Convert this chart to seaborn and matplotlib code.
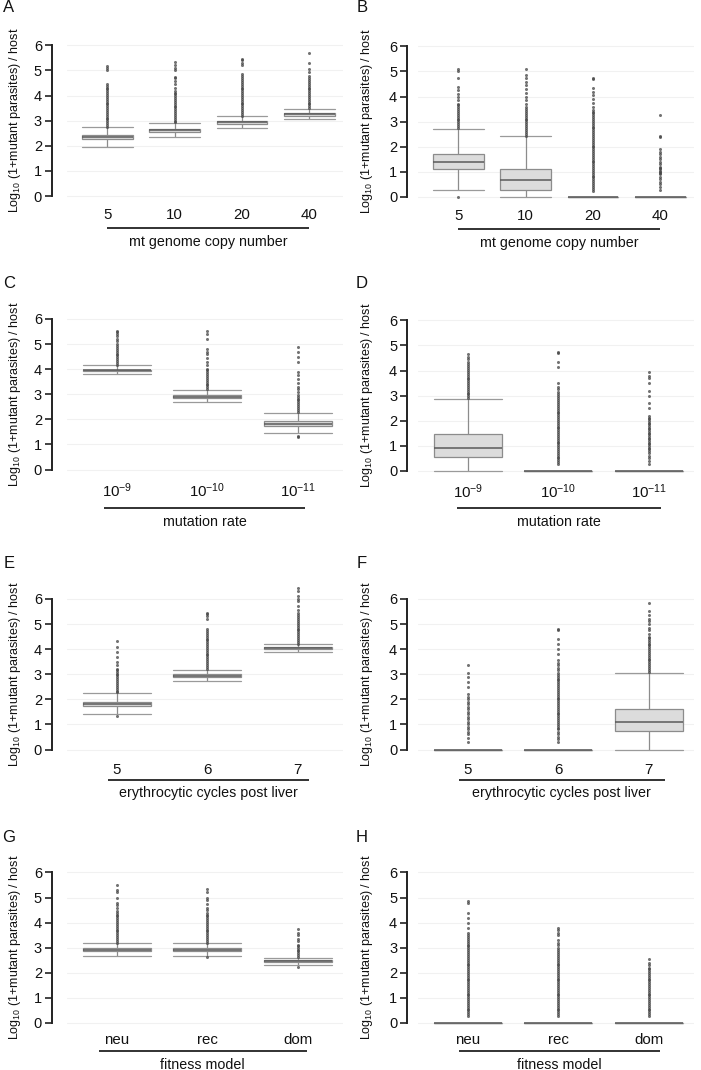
import numpy as np
import pandas as pd
import matplotlib
matplotlib.use("Agg")
import matplotlib.pyplot as plt
from matplotlib.transforms import offset_copy
import seaborn as sns

sns.set_theme(style="white")
plt.rcParams['font.family'] = ['Liberation Sans', 'DejaVu Sans']
plt.rcParams['mathtext.fontset'] = 'custom'
plt.rcParams['mathtext.rm'] = 'Liberation Sans'
plt.rcParams['mathtext.it'] = 'Liberation Sans:italic'
plt.rcParams['mathtext.bf'] = 'Liberation Sans:bold'

# ---------------- categories / tick labels ----------------
cats_copy = ["5", "10", "20", "40"]
ticks_copy = ["5", "10", "20", "40"]
cats_mut = ["1e-9", "1e-10", "1e-11"]
ticks_mut = ["10$^{-9}$", "10$^{-10}$", "10$^{-11}$"]
cats_cyc = ["5", "6", "7"]
ticks_cyc = ["5", "6", "7"]
cats_fit = ["neu", "rec", "dom"]
ticks_fit = ["neu", "rec", "dom"]

ylabel_txt = "Log$_{10}$ (1+mutant parasites) / host"

# ---------------- Panel A ----------------
A_lo = [1.96, 2.36, 2.71, 3.05]
A_q1 = [2.27, 2.55, 2.88, 3.20]
A_med = [2.35, 2.62, 2.93, 3.25]
A_q3 = [2.43, 2.68, 3.00, 3.30]
A_hi = [2.73, 2.91, 3.18, 3.48]
A_out = [
    [2.75, 2.82, 2.9, 2.97, 3.05, 3.12, 3.2, 3.27, 3.35, 3.42, 3.5, 3.57, 3.65, 3.72, 3.8, 3.87,
     3.95, 4.02, 4.1, 4.17, 4.25, 4.3, 4.38, 4.45, 5.0, 5.08, 5.17],
    [2.93, 3.0, 3.08, 3.15, 3.23, 3.3, 3.38, 3.45, 3.53, 3.6, 3.68, 3.75, 3.83, 3.9, 3.98, 4.05,
     4.12, 4.2, 4.3, 4.45, 4.6, 4.7, 4.75, 5.0, 5.1, 5.2, 5.34],
    [3.2, 3.27, 3.35, 3.42, 3.5, 3.57, 3.65, 3.72, 3.8, 3.87, 3.95, 4.02, 4.1, 4.17, 4.25, 4.32,
     4.4, 4.47, 4.55, 4.62, 4.7, 4.8, 4.88, 5.2, 5.3, 5.4, 5.47],
    [3.5, 3.57, 3.65, 3.72, 3.8, 3.87, 3.95, 4.02, 4.1, 4.17, 4.25, 4.32, 4.4, 4.47, 4.55, 4.62,
     4.7, 4.8, 4.95, 5.07, 5.3, 5.7],
]

# ---------------- Panel B ----------------
B_lo = [0.27, 0.0, 0.0, 0.0]
B_q1 = [1.13, 0.27, 0.0, 0.0]
B_med = [1.39, 0.66, 0.0, 0.0]
B_q3 = [1.72, 1.13, 0.0, 0.0]
B_hi = [2.72, 2.42, 0.0, 0.0]
B_out = [
    [0.0, 2.75, 2.82, 2.9, 2.97, 3.05, 3.12, 3.2, 3.27, 3.35, 3.42, 3.5, 3.57, 3.65, 3.72, 3.85,
     4.0, 4.1, 4.25, 4.4, 4.75, 5.0, 5.1],
    [2.45, 2.52, 2.6, 2.67, 2.75, 2.82, 2.9, 2.97, 3.05, 3.12, 3.2, 3.27, 3.35, 3.42, 3.5, 3.57,
     3.7, 3.85, 4.0, 4.15, 4.3, 4.45, 4.6, 4.75, 4.87, 5.1],
    [0.25, 0.33, 0.4, 0.48, 0.55, 0.63, 0.7, 0.78, 0.85, 0.93, 1.0, 1.08, 1.15, 1.23, 1.3, 1.38,
     1.45, 1.53, 1.6, 1.68, 1.75, 1.83, 1.9, 1.98, 2.05, 2.13, 2.2, 2.28, 2.35, 2.43, 2.5, 2.58,
     2.65, 2.73, 2.8, 2.88, 2.95, 3.03, 3.1, 3.18, 3.25, 3.33, 3.4, 3.48, 3.6, 3.75, 3.9, 4.05,
     4.2, 4.35, 4.7, 4.75],
    [0.27, 0.4, 0.5, 0.6, 0.7, 0.8, 0.9, 0.95, 1.0, 1.05, 1.1, 1.15, 1.2, 1.3, 1.4, 1.5, 1.6,
     1.7, 1.8, 1.9, 2.4, 2.45, 3.25],
]

# ---------------- Panel C ----------------
C_lo = [3.81, 2.67, 1.44]
C_q1 = [3.92, 2.83, 1.72]
C_med = [3.95, 2.90, 1.80]
C_q3 = [3.98, 2.97, 1.92]
C_hi = [4.15, 3.17, 2.27]
C_out = [
    [4.18, 4.25, 4.32, 4.4, 4.47, 4.55, 4.62, 4.7, 4.77, 4.85, 4.92, 5.0, 5.1, 5.2, 5.3, 5.4,
     5.47, 5.53],
    [3.2, 3.27, 3.35, 3.42, 3.5, 3.57, 3.65, 3.72, 3.8, 3.87, 3.95, 4.02, 4.15, 4.3, 4.45, 4.6,
     4.7, 4.8, 5.2, 5.4, 5.5],
    [1.3, 1.35, 2.3, 2.37, 2.45, 2.52, 2.6, 2.67, 2.75, 2.82, 2.9, 2.97, 3.1, 3.2, 3.3, 3.45,
     3.6, 3.75, 3.9, 4.3, 4.5, 4.7, 4.9],
]

# ---------------- Panel D ----------------
D_lo = [0.0, 0.0, 0.0]
D_q1 = [0.57, 0.0, 0.0]
D_med = [0.93, 0.0, 0.0]
D_q3 = [1.47, 0.0, 0.0]
D_hi = [2.87, 0.0, 0.0]
D_out = [
    [2.9, 2.97, 3.05, 3.12, 3.2, 3.27, 3.35, 3.42, 3.5, 3.57, 3.65, 3.72, 3.8, 3.87, 3.95, 4.02,
     4.1, 4.17, 4.25, 4.35, 4.45, 4.55, 4.65],
    [0.27, 0.35, 0.42, 0.5, 0.57, 0.65, 0.72, 0.8, 0.87, 0.95, 1.02, 1.1, 1.17, 1.25, 1.32, 1.4,
     1.47, 1.55, 1.62, 1.7, 1.77, 1.85, 1.92, 2.0, 2.07, 2.15, 2.22, 2.3, 2.37, 2.45, 2.52, 2.6,
     2.67, 2.75, 2.82, 2.9, 2.97, 3.05, 3.15, 3.25, 3.35, 3.5, 4.15, 4.35, 4.7, 4.75],
    [0.27, 0.4, 0.5, 0.6, 0.7, 0.8, 0.87, 0.93, 1.0, 1.07, 1.13, 1.2, 1.27, 1.33, 1.4, 1.47,
     1.53, 1.6, 1.67, 1.73, 1.8, 1.87, 1.93, 2.0, 2.07, 2.13, 2.2, 2.5, 2.7, 3.0, 3.2, 3.5, 3.7,
     3.8, 3.95],
]

# ---------------- Panel E ----------------
E_lo = [1.43, 2.73, 3.88]
E_q1 = [1.72, 2.88, 4.00]
E_med = [1.80, 2.93, 4.03]
E_q3 = [1.90, 3.00, 4.08]
E_hi = [2.25, 3.18, 4.19]
E_out = [
    [1.32, 2.28, 2.35, 2.42, 2.5, 2.57, 2.65, 2.72, 2.8, 2.87, 2.95, 3.02, 3.1, 3.17, 3.22, 3.35,
     3.5, 3.7, 3.9, 4.1, 4.34],
    [3.22, 3.3, 3.37, 3.45, 3.52, 3.6, 3.67, 3.75, 3.82, 3.9, 3.97, 4.05, 4.12, 4.2, 4.27, 4.35,
     4.42, 4.5, 4.57, 4.65, 4.72, 4.8, 5.2, 5.3, 5.38, 5.45],
    [4.22, 4.3, 4.37, 4.45, 4.52, 4.6, 4.67, 4.75, 4.82, 4.9, 4.97, 5.05, 5.12, 5.2, 5.27, 5.35,
     5.42, 5.55, 5.7, 5.9, 6.0, 6.1, 6.3, 6.45],
]

# ---------------- Panel F ----------------
F_lo = [0.0, 0.0, 0.0]
F_q1 = [0.0, 0.0, 0.73]
F_med = [0.0, 0.0, 1.10]
F_q3 = [0.0, 0.0, 1.63]
F_hi = [0.0, 0.0, 3.05]
F_out = [
    [0.3, 0.45, 0.6, 0.7, 0.8, 0.9, 1.0, 1.1, 1.2, 1.3, 1.4, 1.5, 1.6, 1.7, 1.8, 1.9, 2.0, 2.1,
     2.2, 2.5, 2.7, 2.9, 3.05, 3.35],
    [0.3, 0.4, 0.5, 0.6, 0.7, 0.8, 0.87, 0.95, 1.02, 1.1, 1.17, 1.25, 1.32, 1.4, 1.47, 1.55,
     1.62, 1.7, 1.77, 1.85, 1.92, 2.0, 2.07, 2.15, 2.22, 2.3, 2.37, 2.45, 2.52, 2.6, 2.67, 2.75,
     2.82, 2.9, 2.97, 3.05, 3.15, 3.25, 3.35, 3.45, 3.55, 3.8, 4.0, 4.2, 4.4, 4.75, 4.8],
    [3.1, 3.17, 3.25, 3.32, 3.4, 3.47, 3.55, 3.62, 3.7, 3.77, 3.85, 3.92, 4.0, 4.07, 4.15, 4.22,
     4.3, 4.37, 4.45, 4.5, 4.6, 4.75, 4.85, 5.0, 5.1, 5.2, 5.35, 5.5, 5.85],
]

# ---------------- Panel G ----------------
G_lo = [2.68, 2.68, 2.31]
G_q1 = [2.85, 2.85, 2.43]
G_med = [2.90, 2.90, 2.47]
G_q3 = [2.97, 2.97, 2.50]
G_hi = [3.17, 3.17, 2.60]
G_out = [
    [3.2, 3.27, 3.35, 3.42, 3.5, 3.57, 3.65, 3.72, 3.8, 3.87, 3.95, 4.02, 4.1, 4.17, 4.25, 4.32,
     4.4, 4.47, 4.6, 4.7, 4.8, 5.0, 5.2, 5.3, 5.5],
    [2.63, 3.2, 3.27, 3.35, 3.42, 3.5, 3.57, 3.65, 3.72, 3.8, 3.87, 3.95, 4.02, 4.1, 4.17, 4.25,
     4.32, 4.4, 4.5, 4.6, 4.75, 4.9, 5.0, 5.2, 5.35],
    [2.25, 2.63, 2.7, 2.77, 2.85, 2.92, 3.0, 3.07, 3.12, 3.25, 3.35, 3.5, 3.6, 3.75],
]

# ---------------- Panel H ----------------
H_lo = [0.0, 0.0, 0.0]
H_q1 = [0.0, 0.0, 0.0]
H_med = [0.0, 0.0, 0.0]
H_q3 = [0.0, 0.0, 0.0]
H_hi = [0.0, 0.0, 0.0]
H_out = [
    [0.27, 0.35, 0.42, 0.5, 0.57, 0.65, 0.72, 0.8, 0.87, 0.95, 1.02, 1.1, 1.17, 1.25, 1.32, 1.4,
     1.47, 1.55, 1.62, 1.7, 1.77, 1.85, 1.92, 2.0, 2.07, 2.15, 2.22, 2.3, 2.37, 2.45, 2.52, 2.6,
     2.67, 2.75, 2.82, 2.9, 2.97, 3.05, 3.12, 3.2, 3.27, 3.35, 3.42, 3.5, 3.57, 3.8, 4.0, 4.2,
     4.4, 4.8, 4.85],
    [0.27, 0.35, 0.42, 0.5, 0.57, 0.65, 0.72, 0.8, 0.87, 0.95, 1.02, 1.1, 1.17, 1.25, 1.32, 1.4,
     1.47, 1.55, 1.62, 1.7, 1.77, 1.85, 1.92, 2.0, 2.07, 2.15, 2.22, 2.3, 2.37, 2.45, 2.52, 2.6,
     2.67, 2.75, 2.82, 2.9, 2.97, 3.1, 3.2, 3.3, 3.5, 3.6, 3.7, 3.8],
    [0.27, 0.35, 0.42, 0.5, 0.57, 0.65, 0.72, 0.8, 0.87, 0.95, 1.02, 1.1, 1.17, 1.25, 1.32, 1.4,
     1.47, 1.55, 1.62, 1.7, 1.77, 1.85, 1.92, 2.0, 2.07, 2.15, 2.2, 2.3, 2.4, 2.55],
]

xlabel_copy = "mt genome copy number"
xlabel_mut = "mutation rate"
xlabel_cyc = "erythrocytic cycles post liver"
xlabel_fit = "fitness model"

# ---------------- layout ----------------
W, H = 701, 1070
fig = plt.figure(figsize=(W / 100, H / 100), dpi=100)
PX_UNIT = 25.1
Y_MIN, Y_MAX = -0.3, 6.6

BOX_FILL = "#dcdcdc"
LINE_COL = "#8c8c8c"
DARK = "#222222"


def draw_panel(letter, col, zero_px, cats, ticks, lo, q1, med, q3, hi, outs, xlabel,
               offs, line_ext):
    n = len(cats)
    if col == 0:
        x_left, x_right, spine_px, ylab_x, let_x = 67, 343, 56, 15, 9
    else:
        x_left, x_right, spine_px, ylab_x, let_x = 418, 694, 410, 367, 362
    bottom_px = zero_px - Y_MIN * PX_UNIT
    top_px = zero_px - Y_MAX * PX_UNIT
    ax = fig.add_axes([x_left / W, 1 - bottom_px / H, (x_right - x_left) / W,
                       (bottom_px - top_px) / H])

    rows = []
    for i, c in enumerate(cats):
        for v in (lo[i], q1[i], med[i], q3[i], hi[i]):
            rows.append((c, v))
    df = pd.DataFrame(rows, columns=["cat", "val"])
    orows = [(c, v) for i, c in enumerate(cats) for v in outs[i]]
    odf = pd.DataFrame(orows, columns=["cat", "val"])

    sns.boxplot(data=df, x="cat", y="val", order=cats, ax=ax, width=0.75,
                whis=(0, 100), showfliers=False, color=BOX_FILL, saturation=1,
                linecolor=LINE_COL, linewidth=0.9,
                medianprops=dict(color="#5a5a5a", linewidth=1.1),
                capprops=dict(color="#9a9a9a", linewidth=0.9),
                whiskerprops=dict(color="#8c8c8c", linewidth=0.9),
                capwidths=0.75)
    sns.stripplot(data=odf, x="cat", y="val", order=cats, ax=ax, jitter=False,
                  size=2.2, color="#444444", alpha=0.75, linewidth=0, zorder=3)

    if n == 4:
        ax.set_xlim(-0.6, 3.5)
    else:
        ax.set_xlim(-0.55, 2.5)
    ax.set_ylim(Y_MIN, Y_MAX)
    ax.set_xlabel("")
    ax.set_ylabel("")
    ax.set_xticks([])
    ax.set_yticks(range(7))
    ax.set_yticklabels([str(v) for v in range(7)])
    ax.grid(axis="y", color="#f1f1f1", linewidth=0.8)
    ax.grid(axis="x", visible=False)
    ax.set_axisbelow(True)
    for s in ("top", "right", "bottom"):
        ax.spines[s].set_visible(False)
    ax.spines["left"].set_position(("outward", x_left - spine_px))
    ax.spines["left"].set_bounds(0, 6)
    ax.spines["left"].set_color(DARK)
    ax.spines["left"].set_linewidth(1.4)
    ax.tick_params(axis="y", left=True, length=5, width=1.2, color=DARK,
                   labelsize=10.5, pad=2, labelcolor="#111111")

    tick_off, line_off, lab_off = offs
    tr_tick = offset_copy(ax.transData, fig=fig, y=-tick_off, units="dots")
    tr_line = offset_copy(ax.transData, fig=fig, y=-line_off, units="dots")
    tr_lab = offset_copy(ax.transData, fig=fig, y=-lab_off, units="dots")
    for i, t in enumerate(ticks):
        ax.text(i, 0, t, transform=tr_tick, ha="center", va="center",
                fontsize=10.8, color="#111111", clip_on=False)
    ax.plot([line_ext[0], n - 1 + line_ext[1]], [0, 0], transform=tr_line,
            color=DARK, linewidth=1.3, clip_on=False, solid_capstyle="butt")
    ax.text((n - 1) / 2 + (line_ext[0] + line_ext[1]) / 2, 0, xlabel,
            transform=tr_lab, ha="center", va="center", fontsize=10.3,
            color="#111111", clip_on=False)

    fig.text(ylab_x / W, 1 - (zero_px - 3 * PX_UNIT) / H, ylabel_txt, rotation=90,
             ha="center", va="center", fontsize=9, color="#111111")
    fig.text(let_x / W, 1 - letter_y[letter] / H, letter, ha="center", va="center",
             fontsize=12, color="#111111")
    return ax


letter_y = {"A": 8, "B": 8, "C": 283, "D": 283, "E": 563, "F": 563, "G": 837, "H": 837}

draw_panel("A", 0, 196, cats_copy, ticks_copy, A_lo, A_q1, A_med, A_q3, A_hi, A_out,
           xlabel_copy, (19, 32, 46), (0.0, 0.0))
draw_panel("B", 1, 197, cats_copy, ticks_copy, B_lo, B_q1, B_med, B_q3, B_hi, B_out,
           xlabel_copy, (19, 32, 46), (0.0, 0.0))
draw_panel("C", 0, 469.5, cats_mut, ticks_mut, C_lo, C_q1, C_med, C_q3, C_hi, C_out,
           xlabel_mut, (21, 38, 52), (-0.14, 0.08))
draw_panel("D", 1, 471, cats_mut, ticks_mut, D_lo, D_q1, D_med, D_q3, D_hi, D_out,
           xlabel_mut, (21, 37, 51), (-0.12, 0.14))
draw_panel("E", 0, 749.5, cats_cyc, ticks_cyc, E_lo, E_q1, E_med, E_q3, E_hi, E_out,
           xlabel_cyc, (20, 30, 44), (-0.1, 0.12))
draw_panel("F", 1, 749.5, cats_cyc, ticks_cyc, F_lo, F_q1, F_med, F_q3, F_hi, F_out,
           xlabel_cyc, (20, 30, 44), (-0.1, 0.18))
draw_panel("G", 0, 1023, cats_fit, ticks_fit, G_lo, G_q1, G_med, G_q3, G_hi, G_out,
           xlabel_fit, (17, 28, 42), (-0.2, 0.1))
draw_panel("H", 1, 1023, cats_fit, ticks_fit, H_lo, H_q1, H_med, H_q3, H_hi, H_out,
           xlabel_fit, (17, 28, 42), (-0.1, 0.12))

fig.savefig("out.png", dpi=100)
